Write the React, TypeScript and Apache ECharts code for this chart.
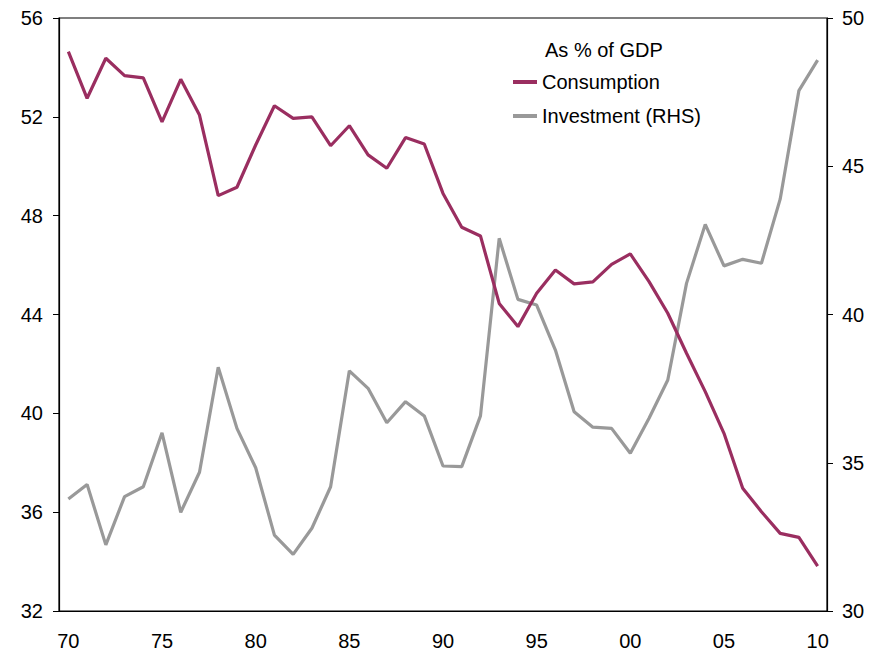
import React, { useEffect, useRef } from "react";
import * as echarts from "echarts";

const years: string[] = [];
for (let y = 1970; y <= 2010; y++) years.push(String(y));

const consumption = [
  54.64, 52.75, 54.37, 53.67, 53.58, 51.8, 53.52, 52.07, 48.81, 49.15,
  50.86, 52.45, 51.94, 52.0, 50.83, 51.64, 50.46, 49.92, 51.16, 50.9,
  48.9, 47.53, 47.18, 44.45, 43.51, 44.86, 45.8, 45.24, 45.32, 46.03,
  46.45, 45.33, 44.05, 42.43, 40.88, 39.19, 36.97, 36.02, 35.14, 34.98,
  33.82,
];

const investment = [
  33.78, 34.27, 32.23, 33.86, 34.19, 36.01, 33.33, 34.68, 38.22, 36.16,
  34.83, 32.56, 31.91, 32.79, 34.19, 38.1, 37.51, 36.35, 37.06, 36.58,
  34.89, 34.87, 36.58, 42.57, 40.51, 40.32, 38.8, 36.72, 36.2, 36.16,
  35.32, 36.5, 37.79, 41.05, 43.04, 41.64, 41.86, 41.73, 43.89, 47.55,
  48.58,
];

const FONT = "Liberation Sans, Arial, sans-serif";

export default function App() {
  const ref = useRef<HTMLDivElement>(null);
  useEffect(() => {
    if (!ref.current) return;
    const chart = echarts.init(ref.current, undefined, { renderer: "svg" });
    chart.setOption({
      animation: false,
      backgroundColor: "#ffffff",
      textStyle: { fontFamily: FONT },
      grid: {
        left: 59,
        right: 52,
        top: 18,
        bottom: 44,
        show: true,
        borderColor: "#000",
        borderWidth: 1.2,
        backgroundColor: "transparent",
      },
      legend: {
        left: 513,
        top: 72,
        padding: 0,
        orient: "vertical",
        icon: "rect",
        itemWidth: 24,
        itemHeight: 4,
        itemGap: 14,
        textStyle: { fontSize: 20, color: "#000", fontFamily: FONT },
        data: ["Consumption", "Investment (RHS)"],
      },
      graphic: [
        {
          type: "text",
          left: 545,
          top: 40,
          style: { text: "As % of GDP", fontSize: 20, fill: "#000", fontFamily: FONT },
        },
      ],
      xAxis: {
        type: "category",
        data: years,
        boundaryGap: true,
        axisLine: { lineStyle: { color: "#000", width: 1.2 } },
        axisTick: { show: false },
        axisLabel: {
          interval: 4,
          margin: 20,
          fontSize: 20,
          color: "#000",
          fontFamily: FONT,
          formatter: (v: string) => v.slice(2),
        },
        splitLine: { show: false },
      },
      yAxis: [
        {
          type: "value",
          min: 32,
          max: 56,
          interval: 4,
          axisLine: { show: true, lineStyle: { color: "#000", width: 1.2 } },
          axisTick: { show: true, length: 6, lineStyle: { color: "#000" } },
          axisLabel: { fontSize: 20, color: "#000", margin: 16, fontFamily: FONT },
          splitLine: { show: false },
        },
        {
          type: "value",
          min: 30,
          max: 50,
          interval: 5,
          position: "right",
          axisLine: { show: true, lineStyle: { color: "#000", width: 1.2 } },
          axisTick: { show: true, length: 6, lineStyle: { color: "#000" } },
          axisLabel: { fontSize: 20, color: "#000", margin: 15, fontFamily: FONT },
          splitLine: { show: false },
        },
      ],
      series: [
        {
          name: "Consumption",
          type: "line",
          yAxisIndex: 0,
          data: consumption,
          symbol: "none",
          color: "#9A2E60",
          lineStyle: { color: "#9A2E60", width: 3.2 },
          z: 3,
        },
        {
          name: "Investment (RHS)",
          type: "line",
          yAxisIndex: 1,
          data: investment,
          symbol: "none",
          color: "#999999",
          lineStyle: { color: "#999999", width: 3.2 },
          z: 2,
        },
      ],
    });
    return () => chart.dispose();
  }, []);
  return (
    <div
      ref={ref}
      style={{ position: "absolute", left: 0, top: 0, width: 879, height: 655 }}
    />
  );
}
